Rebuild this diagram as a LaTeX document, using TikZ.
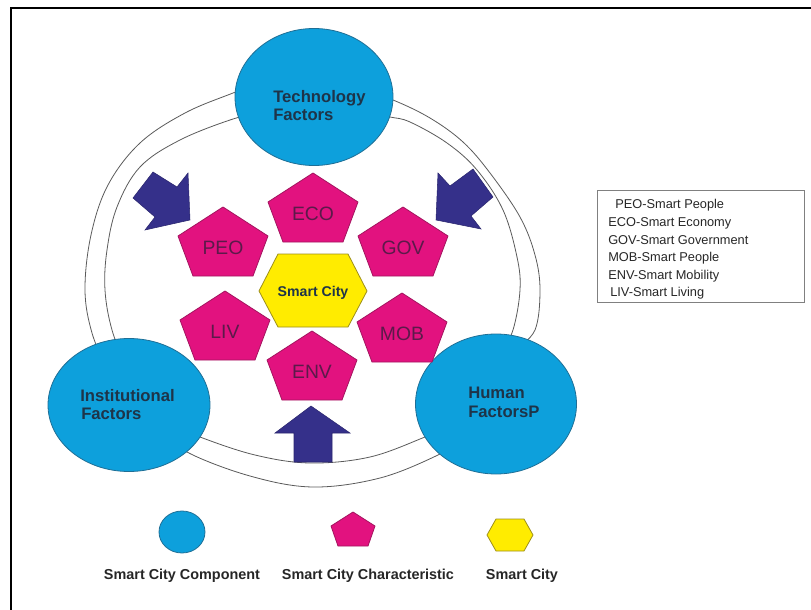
\documentclass[tikz,border=0pt]{standalone}
\usepackage{fontspec}
\setmainfont{Liberation Sans}
\usetikzlibrary{shapes.geometric}
\definecolor{compblue}{HTML}{0DA0DC}
\definecolor{compedge}{HTML}{1F6F96}
\definecolor{charpink}{HTML}{E2127F}
\definecolor{charedge}{HTML}{A3155F}
\definecolor{chartext}{HTML}{5C1A4A}
\definecolor{cityyellow}{HTML}{FFEC00}
\definecolor{cityedge}{HTML}{9C8E1A}
\definecolor{arrowblue}{HTML}{35308A}
\definecolor{comptextcol}{HTML}{1E3449}
\definecolor{ringcol}{HTML}{5A5A5A}
\newcommand\mypent[4]{%
  \draw[pentshape] (#2,#3) -- ++(-45,29) -- ++(15,40) -- ++(60,0) -- ++(15,-40) -- cycle;
  \node[penttext] (#1) at (#2,#3+47.5) {#4};}
\begin{document}
\begin{tikzpicture}[x=0.75pt,y=-0.75pt,
  ring/.style={draw=ringcol, line width=0.6pt},
  comp/.style={ellipse, draw=compedge, fill=compblue, line width=0.6pt, inner sep=0pt},
  comptext/.style={anchor=base west, font=\bfseries\fontsize{12.5}{14}\selectfont, text=comptextcol, inner sep=0pt},
  pentshape/.style={draw=charedge, fill=charpink, line width=0.6pt, line join=miter},
  penttext/.style={anchor=base, font=\fontsize{14.5}{16}\selectfont, text=chartext, inner sep=0pt},
  hexshape/.style={draw=cityedge, fill=cityyellow, line width=0.6pt},
  blockarrow/.style={draw=arrowblue!80!black, fill=arrowblue, line width=0.4pt, line join=miter},
  legtext/.style={anchor=base west, font=\fontsize{9.6}{11}\selectfont, text=black!85, inner sep=0pt},
  keytext/.style={anchor=base, font=\bfseries\fontsize{10.8}{12}\selectfont, text=black!85, inner sep=0pt}]
\useasboundingbox (0,0) rectangle (811,610);
% frame
\draw[line width=1.2pt] (11,610) -- (11,8) -- (811,8);
% ring
\draw[ring] plot[smooth, tension=0.6] coordinates {(262,82) (233,93) (185,113) (140,143) (108,185) (91,235) (85,290) (92,333) (108,372)};
\draw[ring] plot[smooth, tension=0.6] coordinates {(262,113) (233,119) (180,140) (140,167) (117,207) (107,250) (105,290) (112,330) (128,372)};
\draw[ring] plot[smooth, tension=0.6] coordinates {(165,430) (187,452) (250,476) (313,487) (380,478) (438,455) (460,440)};
\draw[ring] plot[smooth, tension=0.6] coordinates {(175,425) (200,437) (255,455) (310,463) (370,457) (425,437) (445,428)};
\draw[ring] plot[smooth, tension=0.6] coordinates {(515,350) (535,330) (540,290) (535,255) (520,217) (490,173) (463,142) (430,118) (393,100) (366,92)};
\draw[ring] plot[smooth, tension=0.6] coordinates {(500,355) (513,330) (520,290) (517,257) (503,210) (477,170) (447,143) (410,122) (390,117) (366,112)};
% components
\node[comp, minimum width=118.5pt, minimum height=102.75pt] (tech) at (314,97) {};
\node[comp, minimum width=121.5pt, minimum height=99.75pt] (inst) at (129,405) {};
\node[comp, minimum width=120.75pt, minimum height=105pt] (human) at (496,404) {};
\node[comptext] (techA) at (273,103) {Technology};
\node[comptext] (techB) at (273,121) {Factors};
\node[comptext] (instA) at (80,401) {Institutional};
\node[comptext] (instB) at (81,419) {Factors};
\node[comptext] (humA) at (468,398) {Human};
\node[comptext] (humB) at (468,417) {FactorsP};
% characteristics
\mypent{eco}{313}{173}{ECO}
\mypent{peo}{223}{207}{PEO}
\mypent{gov}{403}{207}{GOV}
\mypent{liv}{225}{291}{LIV}
\mypent{mob}{402}{293}{MOB}
\mypent{env}{312}{331}{ENV}
% smart city
\draw[hexshape] (259,291) -- (278,254) -- (348,254) -- (367,291) -- (348,327) -- (278,327) -- cycle;
\node[anchor=base, font=\bfseries\fontsize{10.6}{12}\selectfont, text=comptextcol, inner sep=0pt] (city) at (313,296) {Smart City};
% block arrows
\draw[blockarrow] (153,172) -- (177,187) -- (188,173) -- (190,220) -- (145,230) -- (155,217) -- (133,198) -- cycle;
\draw[blockarrow] (473,169) -- (450,186) -- (438,173) -- (436,220) -- (481,229) -- (471,216) -- (493,197) -- cycle;
\draw[blockarrow] (311,406) -- (350,433) -- (332,433) -- (332,462) -- (294,462) -- (294,433) -- (275,433) -- cycle;
% key box
\node[draw=black!50, line width=0.6pt, minimum width=155.25pt, minimum height=84pt, inner sep=0pt] (keybox) at (700.5,246) {};
\node[legtext] (k1) at (615,209) {PEO-Smart People};
\node[legtext] (k2) at (608,226.6) {ECO-Smart Economy};
\node[legtext] (k3) at (608,244.2) {GOV-Smart Government};
\node[legtext] (k4) at (608,261.8) {MOB-Smart People};
\node[legtext] (k5) at (608,279.4) {ENV-Smart Mobility};
\node[legtext] (k6) at (610,296.8) {LIV-Smart Living};
% bottom legend
\node[comp, minimum width=34.5pt, minimum height=31.5pt] (lcomp) at (182,532) {};
\draw[pentshape] (353,512) -- ++(-22,14) -- ++(7,20) -- ++(30,0) -- ++(7,-20) -- cycle;
\draw[hexshape] (487,535) -- (496,519) -- (524,519) -- (533,535) -- (524,551) -- (496,551) -- cycle;
\node[keytext] (lab1) at (182,579) {Smart City Component};
\node[keytext] (lab2) at (368,579) {Smart City Characteristic};
\node[keytext] (lab3) at (522,579) {Smart City};
\end{tikzpicture}
\end{document}
